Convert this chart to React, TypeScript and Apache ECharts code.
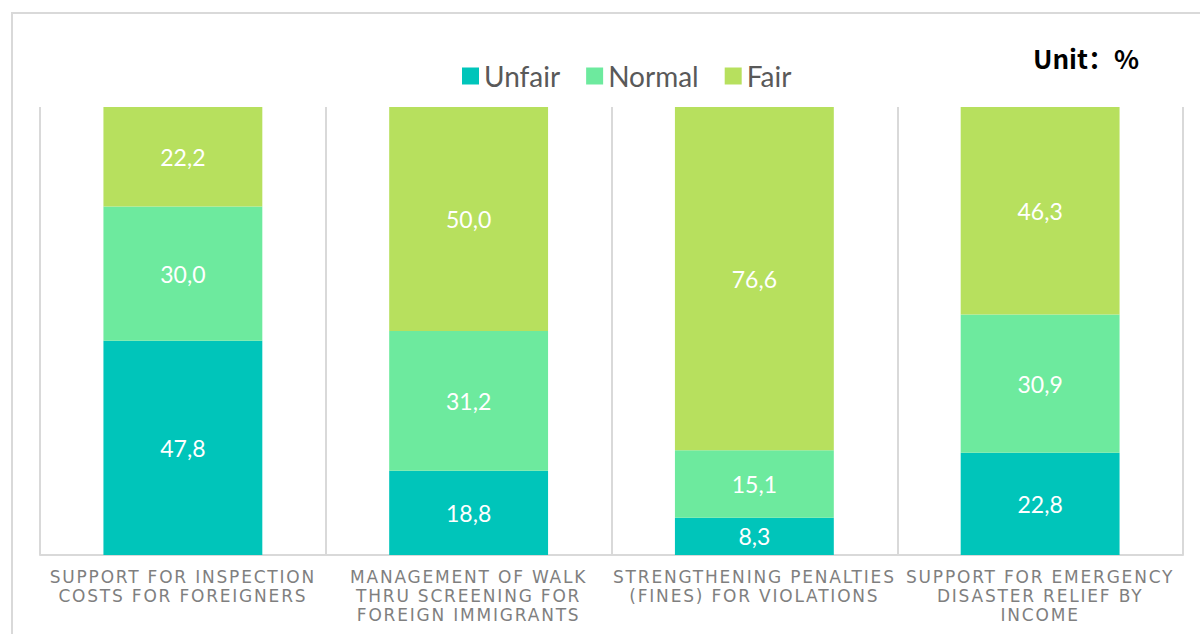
import React, { useEffect, useRef } from "react";
import * as echarts from "echarts";

const categories = [
  "SUPPORT FOR INSPECTION\nCOSTS FOR FOREIGNERS",
  "MANAGEMENT OF WALK\nTHRU SCREENING FOR\nFOREIGN IMMIGRANTS",
  "STRENGTHENING PENALTIES\n(FINES) FOR VIOLATIONS",
  "SUPPORT FOR EMERGENCY\nDISASTER RELIEF BY\nINCOME",
];
const unfair = [47.8, 18.8, 8.3, 22.8];
const normal = [30.0, 31.2, 15.1, 30.9];
const fair = [22.2, 50.0, 76.6, 46.3];
const seriesNames = ["Unfair", "Normal", "Fair"];
const colors = ["#00C5BA", "#6DEA9E", "#B7E05E"];
const unitText = "Unit：%";

export default function App() {
  const ref = useRef<HTMLDivElement>(null);
  useEffect(() => {
    const chart = echarts.init(ref.current!, null, { renderer: "svg" });
    const fmt = (p: any) => Number(p.value).toFixed(1).replace(".", ",");
    const mk = (name: string, data: number[], color: string) => ({
      name,
      type: "bar",
      stack: "total",
      data,
      barWidth: "55.6%",
      itemStyle: { color },
      label: {
        show: true,
        position: "inside",
        color: "#ffffff",
        fontFamily: "Lato",
        fontSize: 23,
        formatter: fmt,
      },
    });
    chart.setOption({
      animation: false,
      backgroundColor: "#ffffff",
      grid: { left: 40, right: 17, top: 107, bottom: 79 },
      legend: {
        top: 57,
        left: 457,
        itemWidth: 17,
        itemHeight: 17,
        itemGap: 26,
        icon: "rect",
        textStyle: { fontSize: 28, color: "#595959", fontFamily: "Lato" },
        data: seriesNames,
      },
      graphic: [
        {
          type: "rect",
          shape: { x: 12, y: 13, width: 1200, height: 700 },
          style: { fill: "none", stroke: "#d9d9d9", lineWidth: 2 },
        },
        {
          type: "text",
          left: 1033,
          top: 44,
          style: {
            text: unitText,
            font: "bold 26px 'Liberation Sans Narrow', 'Noto Sans CJK SC', sans-serif",
            fill: "#000000",
          },
        },
      ],
      xAxis: {
        type: "category",
        data: categories,
        axisTick: { show: false },
        axisLine: { show: true, lineStyle: { color: "#d9d9d9", width: 2 } },
        splitLine: { show: true, interval: 0, lineStyle: { color: "#d9d9d9", width: 2 } },
        axisLabel: {
          interval: 0,
          margin: 12,
          color: "#7f7f7f",
          fontSize: 17,
          lineHeight: 19,
          fontFamily: "DejaVu Sans",
        },
      },
      yAxis: { type: "value", min: 0, max: 100, show: false, splitLine: { show: false } },
      series: [
        mk(seriesNames[0], unfair, colors[0]),
        mk(seriesNames[1], normal, colors[1]),
        mk(seriesNames[2], fair, colors[2]),
      ],
    });
    return () => chart.dispose();
  }, []);
  return (
    <>
      <style>{`.chartwrap svg text[fill="#7f7f7f"], .chartwrap svg text[fill="rgb(127,127,127)"] { letter-spacing: 1.8px; }`}</style>
      <div
        ref={ref}
        className="chartwrap"
        style={{ position: "fixed", left: 0, top: 0, width: 1200, height: 634 }}
      />
    </>
  );
}
